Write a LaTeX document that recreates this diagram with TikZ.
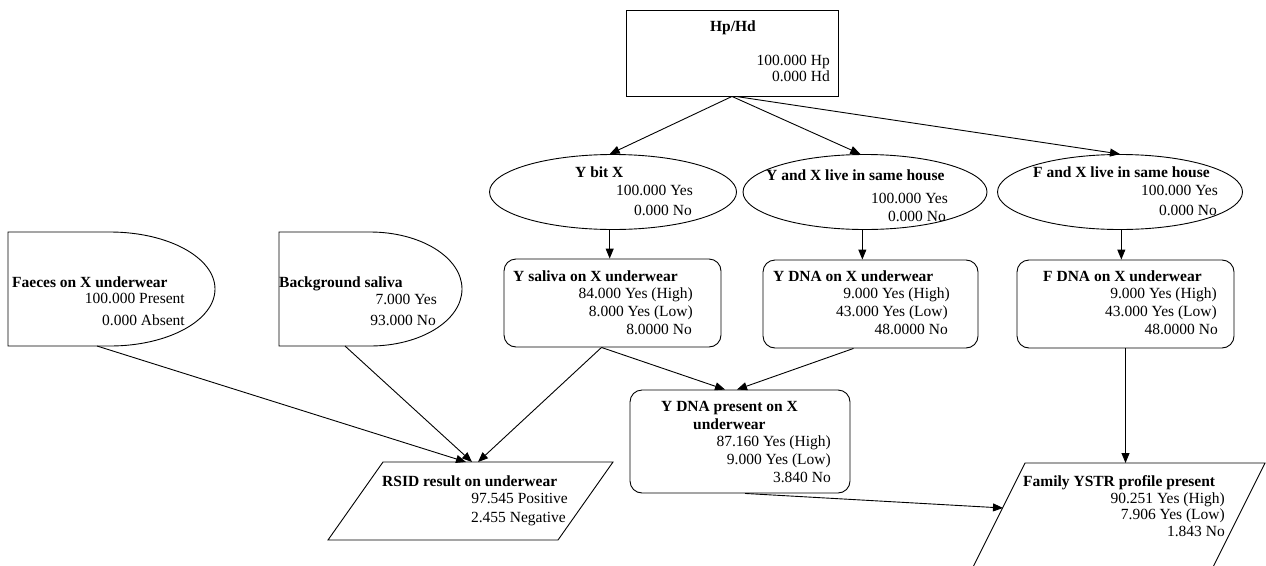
\documentclass[tikz,border=0pt]{standalone}
\usepackage{fontspec}
\setmainfont{Liberation Serif}
\usetikzlibrary{arrows.meta,shapes.geometric,calc}
\begin{document}
\begin{tikzpicture}[x=1pt,y=-1pt,
  shp/.style={draw, line width=0.9pt, inner sep=0pt},
  rbox/.style={shp, rectangle, rounded corners=12pt},
  oval/.style={shp, ellipse},
  ttl/.style={inner sep=0pt, anchor=base west, font=\bfseries\fontsize{15.5}{18}\selectfont},
  val/.style={inner sep=0pt, anchor=base east, font=\fontsize{15.5}{18}\selectfont},
  arr/.style={line width=0.9pt, -{Triangle[length=10pt,width=8pt]}}
]
\useasboundingbox (0,0) rectangle (1266,565);
\clip (0,0) rectangle (1266,565);

% ---- shapes ----
\node[shp, rectangle, minimum width=212pt, minimum height=86pt] (hp) at (732,53) {};
\node[oval, minimum width=247pt, minimum height=75pt] (ybx) at (613,192) {};
\node[oval, minimum width=244pt, minimum height=75pt] (yx) at (865,192) {};
\node[oval, minimum width=245pt, minimum height=75pt] (fx) at (1120,192) {};
\node[rbox, minimum width=217pt, minimum height=88pt] (ys) at (612.5,303) {};
\node[rbox, minimum width=215pt, minimum height=88pt] (yd) at (870.5,304) {};
\node[rbox, minimum width=217pt, minimum height=88pt] (fd) at (1125.5,304) {};
\node[rbox, minimum width=220pt, minimum height=103pt] (ydp) at (740,441.5) {};

\draw[line width=0.9pt] (8,232) -- (110,232) arc[start angle=-90, end angle=90, x radius=105, y radius=57] -- (8,346) -- cycle;
\draw[line width=0.9pt] (279,232) -- (370,232) arc[start angle=-90, end angle=90, x radius=92, y radius=57] -- (279,346) -- cycle;
\draw[line width=0.9pt] (383,462) -- (613,462) -- (558,540) -- (328,540) -- cycle;
\draw[line width=0.9pt] (1025,463) -- (1265,463) -- (1205,583) -- (965,583) -- cycle;

\coordinate (faeB) at (97,346);
\coordinate (bgB) at (345,346);
\coordinate (rsT) at (472,462);
\coordinate (famT) at (1124,463);
\coordinate (famL) at (1003,508);

% ---- texts ----
\node[ttl, anchor=base] (hpT) at (733,31) {Hp/Hd};
\node[val] (hpA) at (830,65) {100.000 Hp};
\node[val] (hpB) at (830,81) {0.000 Hd};

\node[ttl] (ybxT) at (575,177) {Y bit X};
\node[val] (ybxA) at (693,195) {100.000 Yes};
\node[val] (ybxB) at (692,215) {0.000 No};

\node[ttl] (yxT) at (766,180) {Y and X live in same house};
\node[val] (yxA) at (948,203) {100.000 Yes};
\node[val] (yxB) at (946,221) {0.000 No};

\node[ttl] (fxT) at (1033,177) {F and X live in same house};
\node[val] (fxA) at (1218,195) {100.000 Yes};
\node[val] (fxB) at (1217,215) {0.000 No};

\node[ttl] (faeT) at (12,287) {Faeces on X underwear};
\node[val] (faeA) at (185,303) {100.000 Present};
\node[val] (faeB2) at (185,325) {0.000 Absent};

\node[ttl] (bgT) at (279,287) {Background saliva};
\node[val] (bgA) at (437,304) {7.000 Yes};
\node[val] (bgB2) at (436,325) {93.000 No};

\node[ttl] (ysT) at (513,281) {Y saliva on X underwear};
\node[val] (ysA) at (693,298) {84.000 Yes (High)};
\node[val] (ysB) at (693,316) {8.000 Yes (Low)};
\node[val] (ysC) at (692,334) {8.0000 No};

\node[ttl] (ydT) at (773,281) {Y DNA on X underwear};
\node[val] (ydA) at (950,298) {9.000 Yes (High)};
\node[val] (ydB) at (948,316) {43.000 Yes (Low)};
\node[val] (ydC) at (948,334) {48.0000 No};

\node[ttl] (fdT) at (1043,281) {F DNA on X underwear};
\node[val] (fdA) at (1217,298) {9.000 Yes (High)};
\node[val] (fdB) at (1217,316) {43.000 Yes (Low)};
\node[val] (fdC) at (1218,334) {48.0000 No};

\node[ttl] (ydpT1) at (661,411) {Y DNA present on X};
\node[ttl] (ydpT2) at (693,429) {underwear};
\node[val] (ydpA) at (831,446) {87.160 Yes (High)};
\node[val] (ydpB) at (831,464) {9.000 Yes (Low)};
\node[val] (ydpC) at (831,482) {3.840 No};

\node[ttl] (rsT1) at (382,486) {RSID result on underwear};
\node[val] (rsA) at (568,503) {97.545 Positive};
\node[val] (rsB) at (566,522) {2.455 Negative};

\node[ttl] (famT1) at (1023,486) {Family YSTR profile present};
\node[val] (famA) at (1225,503) {90.251 Yes (High)};
\node[val] (famB) at (1225,519) {7.906 Yes (Low)};
\node[val] (famC) at (1225,536) {1.843 No};

% ---- connectors ----
\draw[arr] (hp.south) -- (ybx.95);
\draw[arr] (hp.south) -- (yx.97);
\draw[arr] ($(hp.south)+(4,0)$) -- (fx.north);
\draw[arr] (ybx.265) -- (ybx.265 |- ys.north);
\draw[arr] (yx.266) -- (yx.266 |- yd.north);
\draw[arr] (fx.272) -- (fx.272 |- fd.north);
\draw[arr] ($(ys.south)+(-11,0)$) -- ($(rsT)+(6,0)$);
\draw[arr] ($(ys.south)+(-11,0)$) -- ($(ydp.north)+(-15,0)$);
\draw[arr] ($(yd.south)+(-17,0)$) -- ($(ydp.north)+(-3,0)$);
\draw[arr] (faeB) -- ($(rsT)+(-6,0)$);
\draw[arr] (bgB) -- (rsT);
\draw[arr] (fd.south) -- (fd.south |- famT);
\draw[arr] ($(ydp.south)+(5,0)$) -- (famL);
\end{tikzpicture}
\end{document}
